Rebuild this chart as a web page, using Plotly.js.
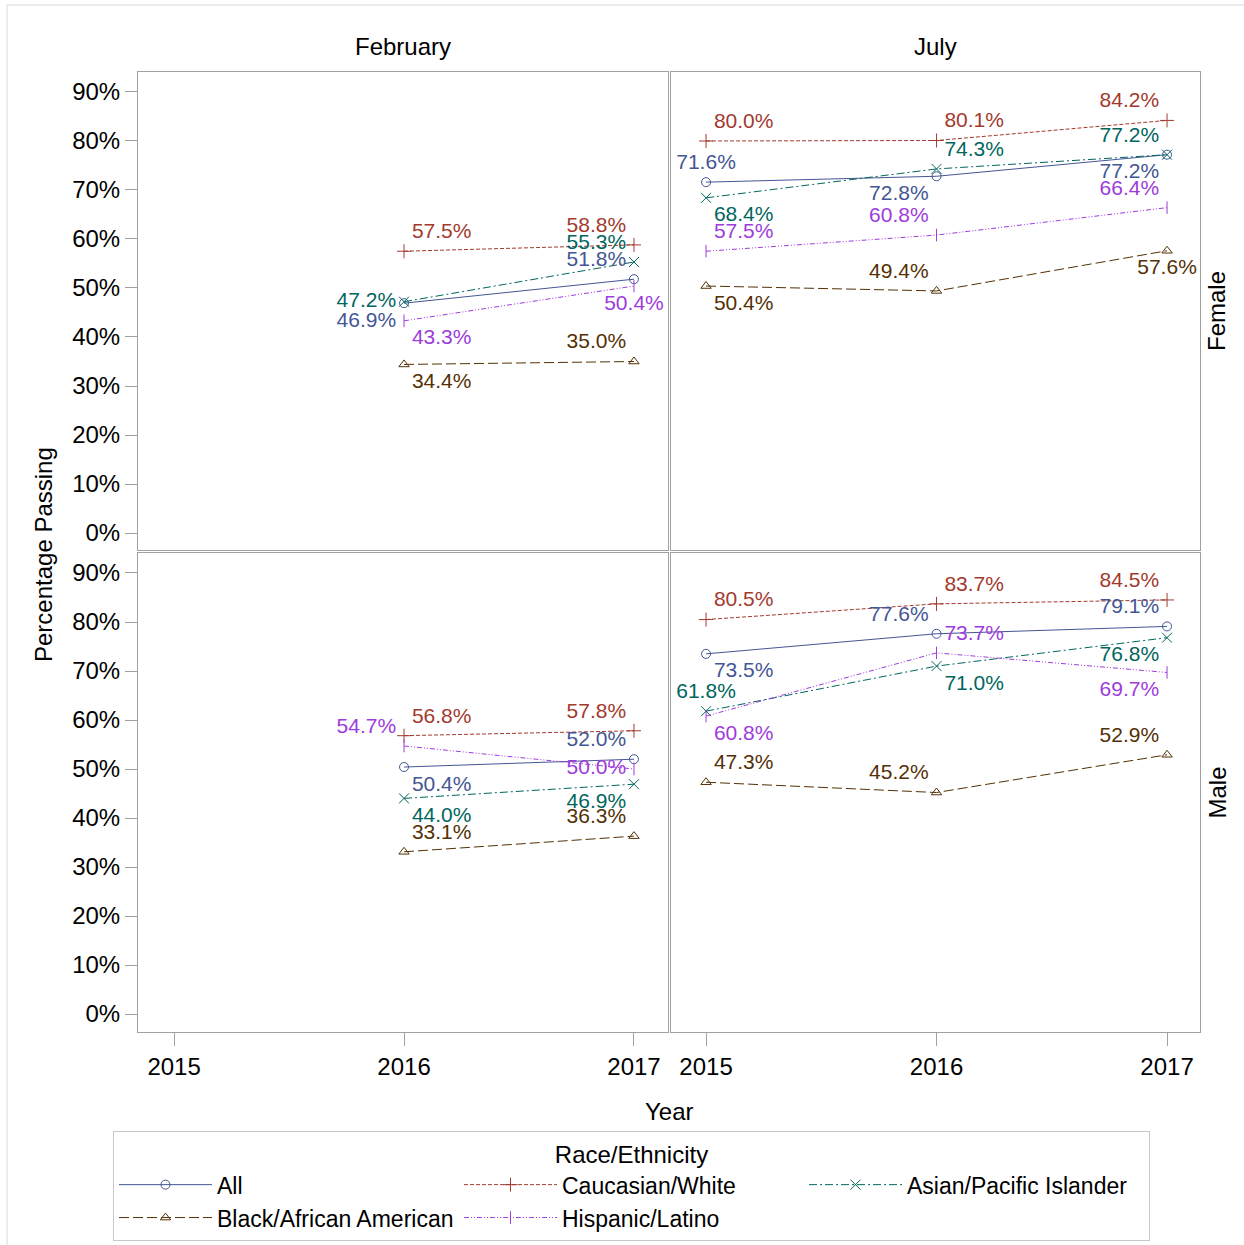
<!DOCTYPE html>
<html>
<head>
<meta charset="utf-8">
<script src="https://cdn.plot.ly/plotly-3.0.1.min.js"></script>
<style>html,body{margin:0;padding:0;background:#fff;}#chart{width:1244px;height:1245px;}</style>
</head>
<body>
<div id="chart"></div>
<script>
// ---------------- DATA ----------------
const seriesNames = ['All', 'Caucasian/White', 'Asian/Pacific Islander', 'Black/African American', 'Hispanic/Latino'];
const columnLabels = ['February', 'July'];
const rowLabels = ['Female', 'Male'];
const yearsFeb = [2016, 2017];
const yearsJul = [2015, 2016, 2017];
const xTickVals = [2015, 2016, 2017];
const yTickVals = [0, 10, 20, 30, 40, 50, 60, 70, 80, 90];

// values in percent, order of seriesNames
const femaleFeb = [[46.9, 51.8], [57.5, 58.8], [47.2, 55.3], [34.4, 35.0], [43.3, 50.4]];
const femaleJul = [[71.6, 72.8, 77.2], [80.0, 80.1, 84.2], [68.4, 74.3, 77.2], [50.4, 49.4, 57.6], [57.5, 60.8, 66.4]];
const maleFeb   = [[50.4, 52.0], [56.8, 57.8], [44.0, 46.9], [33.1, 36.3], [54.7, 50.0]];
const maleJul   = [[73.5, 77.6, 79.1], [80.5, 83.7, 84.5], [61.8, 71.0, 76.8], [47.3, 45.2, 52.9], [60.8, 73.7, 69.7]];

// ---------------- STYLE ----------------
const colors = ['#445694', '#A23A2E', '#01665E', '#543005', '#9D3CDB'];
const dashes = ['solid', '4px,2px', '8px,3px,2px,3px', '10px,4px', '5px,2px,1px,2px,1px,2px'];
const symbols = ['circle-open', 'cross-thin-open', 'x-thin-open', 'triangle-up-open', 'line-ns-open'];
const msizes = [9, 10, 10, 9, 9];

const posFemaleFeb = [['bottom left', 'top left'], ['top right', 'top left'], ['middle left', 'top left'], ['bottom right', 'top left'], ['bottom right', 'bottom center']];
const posFemaleJul = [['top center', 'bottom left', 'bottom left'], ['top right', 'top right', 'top left'], ['bottom right', 'top right', 'top left'], ['bottom right', 'top left', 'bottom center'], ['top right', 'top left', 'top left']];
const posMaleFeb   = [['bottom right', 'top left'], ['top right', 'top left'], ['bottom right', 'bottom left'], ['top right', 'top left'], ['top left', 'middle left']];
const posMaleJul   = [['bottom right', 'top left', 'top left'], ['top right', 'top right', 'top left'], ['top center', 'bottom right', 'bottom left'], ['top right', 'top left', 'top left'], ['bottom right', 'top right', 'bottom left']];

const FONT = 'Liberation Sans, Arial, sans-serif';
const W = 1244, H = 1245;
const px = v => v / W;
const py = v => 1 - v / H;

const panels = [
  {xa: 'x',  ya: 'y',  years: yearsFeb, data: femaleFeb, pos: posFemaleFeb, legend: true},
  {xa: 'x2', ya: 'y2', years: yearsJul, data: femaleJul, pos: posFemaleJul, legend: false},
  {xa: 'x3', ya: 'y3', years: yearsFeb, data: maleFeb,   pos: posMaleFeb,   legend: false},
  {xa: 'x4', ya: 'y4', years: yearsJul, data: maleJul,   pos: posMaleJul,   legend: false}
];

const traces = [];
panels.forEach(p => {
  seriesNames.forEach((name, i) => {
    traces.push({
      type: 'scatter', mode: 'lines+markers', name: name,
      x: p.years, y: p.data[i], xaxis: p.xa, yaxis: p.ya,
      legendgroup: name, showlegend: p.legend,
      line: {color: colors[i], width: 1, dash: dashes[i]},
      marker: {symbol: symbols[i], size: msizes[i], color: colors[i], line: {color: colors[i], width: 1}},
      hoverinfo: 'skip'
    });
  });
});
panels.forEach(p => {
  seriesNames.forEach((name, i) => {
    traces.push({
      type: 'scatter', mode: 'markers+text', name: name,
      x: p.years, y: p.data[i], xaxis: p.xa, yaxis: p.ya,
      legendgroup: name, showlegend: false,
      marker: {size: 11, opacity: 0, color: colors[i]},
      text: p.data[i].map(v => v.toFixed(1) + '%'),
      textposition: p.pos[i],
      textfont: {family: FONT, size: 21, color: colors[i]},
      hoverinfo: 'skip', cliponaxis: false
    });
  });
});

const xDomFeb = [px(138), px(668)];
const xDomJul = [px(671), px(1200)];
const yDomTop = [py(550), py(72)];
const yDomBot = [py(1032), py(553)];
const xRangeFeb = [2014.843, 2017.148];
const xRangeJul = [2014.848, 2017.143];
const yRangeTop = [-3.47, 94.08];
const yRangeBot = [-3.67, 94.08];
const LC = '#a0a0a0';

function xax(dom, range, anchor, showLabels) {
  return {
    domain: dom, range: range, anchor: anchor, showgrid: false, zeroline: false, automargin: false,
    showline: true, mirror: true, linecolor: LC, linewidth: 1,
    tickmode: 'array', tickvals: xTickVals, ticktext: xTickVals.map(String),
    ticks: showLabels ? 'outside' : '', ticklen: 13, tickcolor: LC, tickwidth: 1,
    showticklabels: showLabels, tickfont: {family: FONT, size: 24, color: '#000'}
  };
}
function yax(dom, range, anchor, showLabels) {
  return {
    domain: dom, range: range, anchor: anchor, showgrid: false, zeroline: false, automargin: false,
    showline: true, mirror: true, linecolor: LC, linewidth: 1,
    tickmode: 'array', tickvals: yTickVals, ticktext: yTickVals.map(v => v + '%'),
    ticks: showLabels ? 'outside' : '', ticklen: 12, tickcolor: LC, tickwidth: 1,
    showticklabels: showLabels, tickfont: {family: FONT, size: 24, color: '#000'}
  };
}

const annFont = {family: FONT, size: 24, color: '#000'};
const annotations = [
  {text: columnLabels[0], x: (xDomFeb[0] + xDomFeb[1]) / 2, y: py(47), xref: 'paper', yref: 'paper', showarrow: false, font: annFont, xanchor: 'center', yanchor: 'middle'},
  {text: columnLabels[1], x: (xDomJul[0] + xDomJul[1]) / 2, y: py(47), xref: 'paper', yref: 'paper', showarrow: false, font: annFont, xanchor: 'center', yanchor: 'middle'},
  {text: rowLabels[0], x: px(1217), y: (yDomTop[0] + yDomTop[1]) / 2, xref: 'paper', yref: 'paper', showarrow: false, font: annFont, textangle: -90, xanchor: 'center', yanchor: 'middle'},
  {text: rowLabels[1], x: px(1217), y: (yDomBot[0] + yDomBot[1]) / 2, xref: 'paper', yref: 'paper', showarrow: false, font: annFont, textangle: -90, xanchor: 'center', yanchor: 'middle'},
  {text: 'Percentage Passing', x: px(43), y: py(555), xref: 'paper', yref: 'paper', showarrow: false, font: annFont, textangle: -90, xanchor: 'center', yanchor: 'middle'},
  {text: 'Year', x: px(669), y: py(1111), xref: 'paper', yref: 'paper', showarrow: false, font: annFont, xanchor: 'center', yanchor: 'middle'}
];

const layout = {
  width: W, height: H, autosize: false,
  margin: {l: 0, r: 0, t: 0, b: 0, pad: 0, autoexpand: false},
  paper_bgcolor: '#fff', plot_bgcolor: '#fff',
  font: {family: FONT, size: 24, color: '#000'},
  showlegend: true,
  xaxis: xax(xDomFeb, xRangeFeb, 'y', false),
  yaxis: yax(yDomTop, yRangeTop, 'x', true),
  xaxis2: xax(xDomJul, xRangeJul, 'y2', false),
  yaxis2: yax(yDomTop, yRangeTop, 'x2', false),
  xaxis3: xax(xDomFeb, xRangeFeb, 'y3', true),
  yaxis3: yax(yDomBot, yRangeBot, 'x3', true),
  xaxis4: xax(xDomJul, xRangeJul, 'y4', true),
  yaxis4: yax(yDomBot, yRangeBot, 'x4', false),
  legend: {
    orientation: 'h', x: px(113), y: py(1131), xanchor: 'left', yanchor: 'top',
    bordercolor: '#c8c8c8', borderwidth: 1, bgcolor: '#fff',
    font: {family: FONT, size: 23, color: '#000'},
    title: {text: 'Race/Ethnicity', side: 'top center', font: {family: FONT, size: 24, color: '#000'}},
    itemwidth: 93, entrywidth: 237, entrywidthmode: 'pixels', traceorder: 'normal', tracegroupgap: 0,
    itemclick: false, itemdoubleclick: false
  },
  annotations: annotations,
  shapes: [
    {type: 'line', xref: 'paper', yref: 'paper', x0: px(7), x1: px(7), y0: py(5), y1: 0, line: {color: '#d8d8d8', width: 1}},
    {type: 'line', xref: 'paper', yref: 'paper', x0: px(7), x1: 1, y0: py(5), y1: py(5), line: {color: '#d8d8d8', width: 1}}
  ]
};

Plotly.newPlot('chart', traces, layout, {displayModeBar: false, staticPlot: true});
</script>
</body>
</html>
